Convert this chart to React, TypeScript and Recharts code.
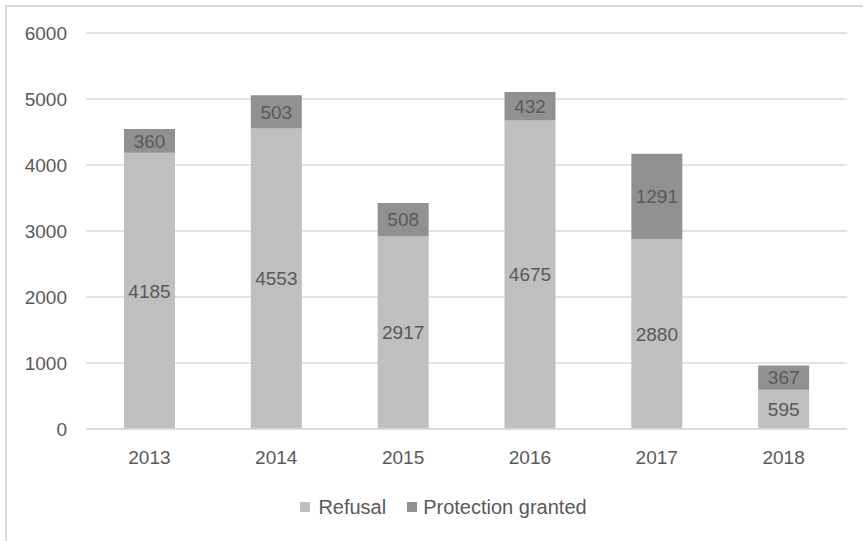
import React from 'react';
import { BarChart, Bar, XAxis, YAxis, CartesianGrid, Legend, LabelList } from 'recharts';

const years = ['2013', '2014', '2015', '2016', '2017', '2018'];
const refusal = [4185, 4553, 2917, 4675, 2880, 595];
const protectionGranted = [360, 503, 508, 432, 1291, 367];
const yTicks = [0, 1000, 2000, 3000, 4000, 5000, 6000];

const FONT = '"Liberation Sans", Arial, sans-serif';
const TEXT = '#595959';
const REFUSAL_COLOR = '#bfbfbf';
const GRANTED_COLOR = '#919191';

const data = years.map((year, i) => ({
  year,
  refusal: refusal[i],
  granted: protectionGranted[i],
}));

const LegendContent = () => (
  <div
    style={{
      display: 'flex',
      justifyContent: 'center',
      paddingTop: 15,
      paddingLeft: 40,
      fontFamily: FONT,
      fontSize: 20,
      color: TEXT,
      lineHeight: '22px',
    }}
  >
    <span style={{ display: 'flex', alignItems: 'center', marginRight: 21 }}>
      <span style={{ width: 10, height: 10, background: REFUSAL_COLOR, marginRight: 8 }} />
      Refusal
    </span>
    <span style={{ display: 'flex', alignItems: 'center' }}>
      <span style={{ width: 10, height: 10, background: GRANTED_COLOR, marginRight: 6 }} />
      Protection granted
    </span>
  </div>
);

export default function App() {
  return (
    <div style={{ position: 'fixed', left: 0, top: 0, width: 863, height: 541, background: '#fff' }}>
      <div
        style={{
          position: 'absolute',
          left: 5,
          top: 5,
          right: 0,
          bottom: 0,
          borderTop: '2px solid #d9d9d9',
          borderLeft: '2px solid #d9d9d9',
        }}
      />
      <div style={{ position: 'absolute', left: 0, top: 0 }}>
        <BarChart
          width={863}
          height={541}
          data={data}
          margin={{ top: 33, right: 16, left: 0, bottom: 0 }}
          style={{ fontFamily: FONT }}
        >
          <CartesianGrid vertical={false} stroke="#d9d9d9" strokeWidth={1.5} />
          <XAxis
            dataKey="year"
            height={52}
            tickLine={false}
            tickSize={0}
            tickMargin={22}
            axisLine={{ stroke: '#d9d9d9', strokeWidth: 1.5 }}
            tick={{ fill: TEXT, fontSize: 19 }}
          />
          <YAxis
            width={86}
            domain={[0, 6000]}
            ticks={yTicks}
            tickLine={false}
            tickSize={0}
            tickMargin={19}
            axisLine={false}
            tick={{ fill: TEXT, fontSize: 19 }}
          />
          <Legend verticalAlign="bottom" height={60} content={<LegendContent />} />
          <Bar dataKey="refusal" stackId="a" fill={REFUSAL_COLOR} barSize={51} isAnimationActive={false}>
            <LabelList dataKey="refusal" position="center" fill={TEXT} fontSize={19} />
          </Bar>
          <Bar dataKey="granted" stackId="a" fill={GRANTED_COLOR} barSize={51} isAnimationActive={false}>
            <LabelList dataKey="granted" position="center" fill={TEXT} fontSize={19} />
          </Bar>
        </BarChart>
      </div>
    </div>
  );
}
